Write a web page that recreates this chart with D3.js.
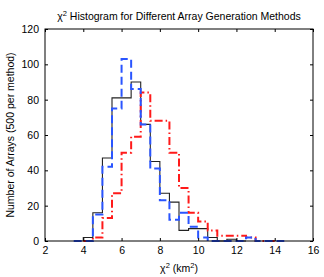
<!DOCTYPE html>
<html><head><meta charset="utf-8">
<script src="https://cdn.jsdelivr.net/npm/d3@7"></script>
<style>body{margin:0;background:#fff}svg{display:block}text{font-family:"Liberation Sans",Arial,sans-serif;fill:#000}</style>
</head><body><svg id="c" width="324" height="277"></svg>
<script>
// Bin edges start and bin width
const binWidth = 0.5;
const blackStart = 4.0;
const blackCounts = [2,16,47,81,81,90,66,45,27,22,6,7,7,2,0,1,0];
const redStart = 4.0;
const redCounts = [0,2,13,27,50,59,84,68,68,50,30,16,11,6,3,3,3,2,0,0];
const blueStart = 3.5;
const blueCounts = [0,0,15,42,75,103,86,66,41,23,12,16,8,2,0,0,0,0,2,0,0,0];
const xTicks = [2,4,6,8,10,12,14,16];
const yTicks = [0,20,40,60,80,100,120];

const svg = d3.select("#c");
const L=45,R=313,T=29,B=241;
const x = d3.scaleLinear().domain([2,16]).range([L,R]);
const y = d3.scaleLinear().domain([0,120]).range([B,T]);

function stepPts(start, counts){
  const pts=[[start,0]];
  counts.forEach((c,i)=>{pts.push([start+i*binWidth,c]);pts.push([start+(i+1)*binWidth,c]);});
  pts.push([start+counts.length*binWidth,0]);
  return pts;
}
const line = d3.line().x(d=>x(d[0])).y(d=>y(d[1]));

const g = svg.append("g");
g.append("path").attr("d",line(stepPts(blackStart,blackCounts))).attr("fill","none").attr("stroke","#222").attr("stroke-width",1.1);
g.append("path").attr("d",line(stepPts(redStart,redCounts))).attr("fill","none").attr("stroke","#ff1a1a").attr("stroke-width",2).attr("stroke-dasharray","8,3,1.5,3");
g.append("path").attr("d",line(stepPts(blueStart,blueCounts))).attr("fill","none").attr("stroke","#2a55ff").attr("stroke-width",2).attr("stroke-dasharray","8,4");

// box
svg.append("rect").attr("x",L).attr("y",T).attr("width",R-L).attr("height",B-T).attr("fill","none").attr("stroke","#000").attr("stroke-width",1);

const tl=3;
const xa = svg.append("g").attr("transform",`translate(0,${B})`).call(d3.axisBottom(x).tickValues(xTicks).tickSize(-tl).tickPadding(6).tickFormat(d3.format("d")));
const xt = svg.append("g").attr("transform",`translate(0,${T})`).call(d3.axisTop(x).tickValues(xTicks).tickSize(-tl).tickFormat(""));
const ya = svg.append("g").attr("transform",`translate(${L},0)`).call(d3.axisLeft(y).tickValues(yTicks).tickSize(-tl).tickPadding(6).tickFormat(d3.format("d")));
const yr = svg.append("g").attr("transform",`translate(${R},0)`).call(d3.axisRight(y).tickValues(yTicks).tickSize(-tl).tickFormat(""));
[xa,xt,ya,yr].forEach(a=>{a.select(".domain").remove();a.selectAll("line").attr("stroke","#000");a.selectAll("text").attr("font-size",10.5).attr("font-family","Liberation Sans, Arial, sans-serif").attr("fill","#000");});

// title
const t = svg.append("text").attr("x",(L+R)/2).attr("y",20).attr("text-anchor","middle").attr("font-size",10.5);
t.append("tspan").text("χ");
t.append("tspan").attr("dy",-4).attr("font-size",7.5).text("2");
t.append("tspan").attr("dy",4).text(" Histogram for Different Array Generation Methods");

// x label
const xl = svg.append("text").attr("x",(L+R)/2).attr("y",272).attr("text-anchor","middle").attr("font-size",10.5);
xl.append("tspan").text("χ");
xl.append("tspan").attr("dy",-4).attr("font-size",7.5).text("2");
xl.append("tspan").attr("dy",4).text(" (km");
xl.append("tspan").attr("dy",-4).attr("font-size",7.5).text("2");
xl.append("tspan").attr("dy",4).text(")");

// y label
svg.append("text").attr("transform",`translate(14,${(T+B)/2}) rotate(-90)`).attr("text-anchor","middle").attr("font-size",10.5).text("Number of Arrays (500 per method)");
</script></body></html>
